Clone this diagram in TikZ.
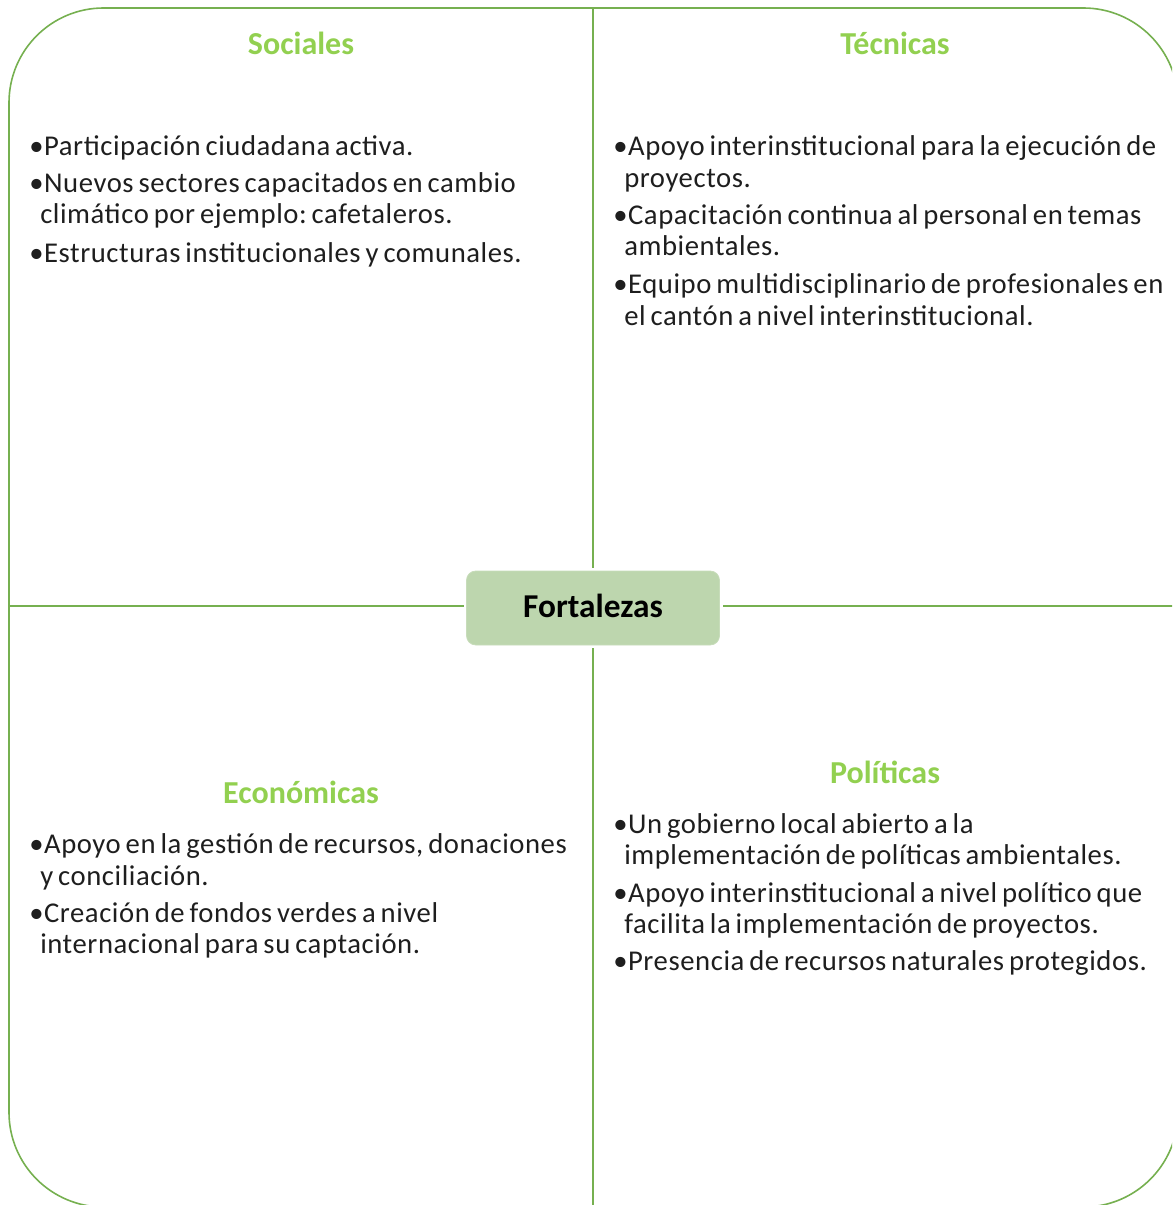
\documentclass[tikz,border=0pt]{standalone}
\usepackage{fontspec}
\setmainfont{Carlito}
\newfontfamily\bodyfont{Carlito}[LetterSpace=2,WordSpace=0.7]
\definecolor{framegreen}{RGB}{118,176,80}
\definecolor{titlegreen}{RGB}{146,208,80}
\definecolor{nodefill}{RGB}{189,214,174}
\definecolor{bodytext}{RGB}{30,30,30}
\tikzset{
  frame/.style={draw=framegreen, line width=1.2pt},
  divider/.style={draw=framegreen, line width=1.2pt},
  centerbox/.style={fill=nodefill, draw=nodefill!85!white, line width=0.6pt, rounded corners=7pt,
    minimum width=189.75pt, minimum height=55.5pt, inner sep=0pt,
    font=\fontsize{25}{28}\selectfont\bfseries, text=black},
  quadtitle/.style={font=\fontsize{24}{28}\selectfont\bfseries, text=titlegreen, inner sep=0pt, anchor=center},
  bodyline/.style={font=\bodyfont\fontsize{21.5}{24}\selectfont\frenchspacing, text=bodytext,
    inner sep=0pt, anchor=mid west}
}
\begin{document}
\begin{tikzpicture}[x=0.75pt,y=-0.75pt]
\useasboundingbox (0,0) rectangle (1172,1205);
\begin{scope}
  \clip (0,0) rectangle (1172,1205);
  \draw[frame, rounded corners=71pt] (9,8) rectangle (1178,1207);
\end{scope}
% center node
\node[centerbox] (f) at (593,608) {\raisebox{3pt}{Fortalezas}};
% divider end points
\coordinate (top) at (593,8);
\coordinate (bot) at (593,1207);
\coordinate (lft) at (9,606);
\coordinate (rgt) at (1178,606);
\begin{scope}
  \clip (0,0) rectangle (1172,1205);
  \draw[divider, shorten >=2.25pt] (top) -- (f.north);
  \draw[divider, shorten >=2.25pt] (bot) -- (f.south);
  \draw[divider, shorten >=1.5pt] (lft) -- (lft -| f.west);
  \draw[divider, shorten >=2.25pt] (rgt) -- (rgt -| f.east);
\end{scope}
% titles
\node[quadtitle] (tsoc) at (301,43) {Sociales};
\node[quadtitle] (ttec) at (895,43) {Técnicas};
\node[quadtitle] (teco) at (301,792) {Económicas};
\node[quadtitle] (tpol) at (885,772) {Políticas};
% Sociales
\node[bodyline] (s1) at (29,152) {•Participación ciudadana activa.};
\node[bodyline] (s2) at (29,189) {•Nuevos sectores capacitados en cambio};
\node[bodyline] (s3) at (40,220) {climático por ejemplo: cafetaleros.};
\node[bodyline] (s4) at (29,259) {•Estructuras institucionales y comunales.};
% Tecnicas
\node[bodyline] (t1) at (613,152) {•Apoyo interinstitucional para la ejecución de};
\node[bodyline] (t2) at (624,184) {proyectos.};
\node[bodyline] (t3) at (613,221) {•Capacitación continua al personal en temas};
\node[bodyline] (t4) at (624,252) {ambientales.};
\node[bodyline] (t5) at (613,290) {•Equipo multidisciplinario de profesionales en};
\node[bodyline] (t6) at (624,322) {el cantón a nivel interinstitucional.};
% Economicas
\node[bodyline] (e1) at (29,850) {•Apoyo en la gestión de recursos, donaciones};
\node[bodyline] (e2) at (40,882) {y conciliación.};
\node[bodyline] (e3) at (29,919) {•Creación de fondos verdes a nivel};
\node[bodyline] (e4) at (40,950) {internacional para su captación.};
% Politicas
\node[bodyline] (p1) at (613,830) {•Un gobierno local abierto a la};
\node[bodyline] (p2) at (624,861) {implementación de políticas ambientales.};
\node[bodyline] (p3) at (613,899) {•Apoyo interinstitucional a nivel político que};
\node[bodyline] (p4) at (624,930) {facilita la implementación de proyectos.};
\node[bodyline] (p5) at (613,967) {•Presencia de recursos naturales protegidos.};
\end{tikzpicture}
\end{document}
